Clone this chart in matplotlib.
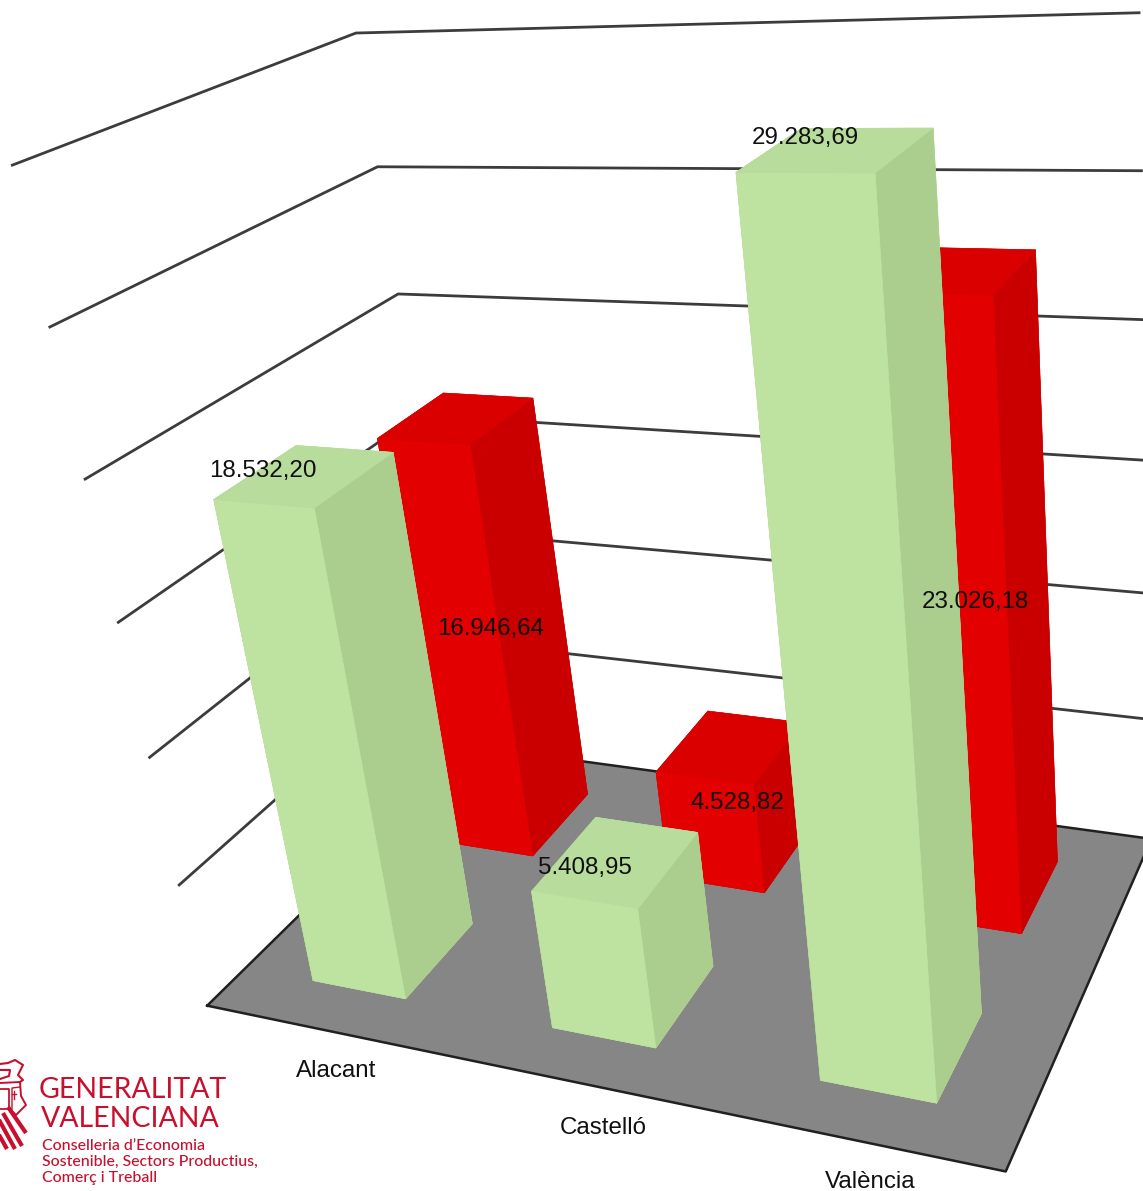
import numpy as np
import matplotlib
matplotlib.use("Agg")
import matplotlib.pyplot as plt

WIDTH, HEIGHT = 1143, 1191

categories = ["Alacant", "Castelló", "València"]
values_front = [18532.20, 5408.95, 29283.69]
values_back = [16946.64, 4528.82, 23026.18]
grid_levels = [5000, 10000, 15000, 20000, 25000, 30000]

GREEN = {"front": "#BEE3A1", "top": "#B8DC9C", "side": "#ABCE8F"}
RED = {"front": "#E20000", "top": "#DA0000", "side": "#CA0000"}
FLOOR = "#868686"
LOGO = "#C8102E"

# camera: world (category position, depth 0-1, value) -> reference pixels
CAMERA = np.array([
    [212.0858, 362.3737, -6.560489e-3, 207.1646],
    [-7.761736, -103.8927, -28.90694e-3, 1005.686],
    [-0.05379632, 0.2086007, -0.005379765e-3, 1.0],
])


def project(x, y, z):
    h = CAMERA @ np.array([x, y, z, 1.0])
    return h[0] / h[2], h[1] / h[2]


def format_es(v):
    s = f"{v:,.2f}"
    return s.replace(",", "#").replace(".", ",").replace("#", ".")


fig = plt.figure(figsize=(WIDTH / 100, HEIGHT / 100), dpi=100, facecolor="white")
ax = fig.add_axes([(WIDTH - HEIGHT) / 2 / WIDTH, 0, HEIGHT / WIDTH, 1],
                  projection="3d", computed_zorder=False)
ax.set_axis_off()
ax.patch.set_alpha(0)
ax.set_xlim(0, 3)
ax.set_ylim(0, 1)
ax.set_zlim(0, 30000)


def camera_proj():
    inv = ax.transData.inverted()
    o = inv.transform((0, HEIGHT))
    d = inv.transform((1, HEIGHT - 1)) - o
    w = CAMERA[2]
    return np.array([
        d[0] * CAMERA[0] + o[0] * w,
        d[1] * CAMERA[1] + o[1] * w,
        [0, 0, 0, -1.0],
        w,
    ])


ax.get_proj = camera_proj

# floor
ax.bar3d(0, 0, 0, 3, 1, 0.001, color=[FLOOR] * 6, edgecolor=[FLOOR] * 6,
         linewidth=0, shade=False, zorder=1)
ax.plot([0, 3, 3, 0, 0], [0, 0, 1, 1, 0], [0, 0, 0, 0, 0],
        color="#202020", lw=1.8, zorder=1.5)

# walls' gridlines
for lev in grid_levels:
    ax.plot([0, 0, 3], [0, 1, 1], [lev, lev, lev], color="#3C3C3C", lw=2.0, zorder=1.2,
            solid_joinstyle="miter")


def bar(i, y0, value, pal, z):
    faces = [pal["top"], pal["top"], pal["front"], pal["front"], pal["side"], pal["side"]]
    ax.bar3d(i + 0.3, y0, 0, 0.4, 0.25, value, color=faces, edgecolor=faces,
             linewidth=0.4, shade=False, zorder=z)


for i, v in enumerate(values_back):
    bar(i, 0.625, v, RED, 3)
for i, v in enumerate(values_front):
    bar(i, 0.125, v, GREEN, 4)

# overlay in reference pixels for text and the emblem
ov = fig.add_axes([0, 0, 1, 1], zorder=5)
ov.set_xlim(0, WIDTH)
ov.set_ylim(HEIGHT, 0)
ov.axis("off")
ov.patch.set_alpha(0)

txt = dict(family=["Liberation Sans", "DejaVu Sans"], fontsize=17.4, color="#101010",
           ha="center", va="center")

front_offsets = [(-42, -5), (-31, 7), (-31, -12)]
back_offsets = [(34, 211), (8, 56), (20, 332)]
cat_offsets = [(14, 42), (32, 47), (18, 42)]

for i, (v, off) in enumerate(zip(values_back, back_offsets)):
    px, py = project(i + 0.5, 0.75, v)
    ov.text(px + off[0], py + off[1], format_es(v), **txt)
for i, (v, off) in enumerate(zip(values_front, front_offsets)):
    px, py = project(i + 0.5, 0.25, v)
    ov.text(px + off[0], py + off[1], format_es(v), **txt)
for i, (c, off) in enumerate(zip(categories, cat_offsets)):
    px, py = project(i + 0.5, 0, 0)
    ov.text(px + off[0], py + off[1], c, **txt)

# logo text
ov.text(39, 1098, "GENERALITAT", family="Lato", fontsize=20.5, color=LOGO, va="baseline", ha="left")
ov.text(41, 1127, "VALENCIANA", family="Lato", fontsize=20.5, color=LOGO, va="baseline", ha="left")
for s, y in [("Conselleria d’Economia", 1150), ("Sostenible, Sectors Productius,", 1166),
             ("Comerç i Treball", 1182)]:
    ov.text(42, y, s, family="Lato", fontsize=11.4, weight="medium", color=LOGO, va="baseline", ha="left")

# emblem: stripes of the lower shield
for xs, ys in [((8, 26), (1107, 1133)), ((3, 22), (1113, 1146)), ((-2, 15), (1118, 1149)), ((-2, 7), (1133, 1149))]:
    ov.plot(xs, ys, color=LOGO, lw=3.0, solid_capstyle="butt")
# emblem: shield and crest outlines
ov.plot([0, 20, 21, 26, 16, 9], [1083, 1082, 1096, 1105, 1115, 1108], color=LOGO, lw=1.4)
ov.plot([0, 9, 9, 0], [1089, 1089, 1109, 1109], color=LOGO, lw=1.3)
ov.plot([12, 12, 20], [1109, 1088, 1087], color=LOGO, lw=1.0)
ov.plot([0, 8, 15, 23, 18, 23, 20], [1064, 1063, 1060, 1065, 1075, 1080, 1082], color=LOGO, lw=1.5)
ov.plot([0, 10, 9, 0], [1070, 1070, 1076, 1079], color=LOGO, lw=1.5)
ov.plot([13.5, 13.5], [1091, 1099], color=LOGO, lw=1.0)
ov.plot([11.5, 15.5], [1094, 1094], color=LOGO, lw=1.0)

fig.savefig("out.png", dpi=100, facecolor="white")
